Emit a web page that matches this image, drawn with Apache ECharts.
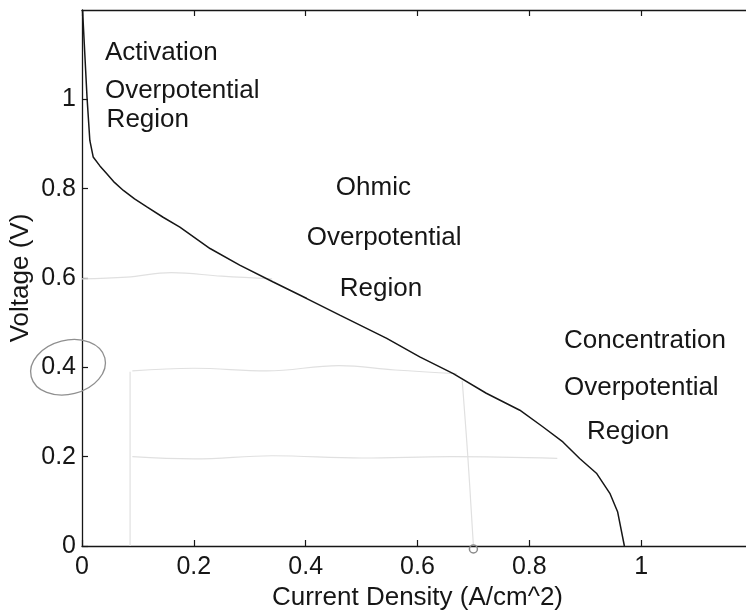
<!DOCTYPE html>
<html>
<head>
<meta charset="utf-8">
<title>Fuel cell polarization curve</title>
<script src="https://cdn.jsdelivr.net/npm/echarts@6/dist/echarts.min.js"></script>
<style>
  html, body { margin: 0; padding: 0; background: #fff; }
  #chart { width: 746px; height: 614px; }
</style>
</head>
<body>
<div id="chart"></div>
<script>
// Polarization curve: cell voltage vs. current density
const currentDensity = [0.001, 0.009, 0.014, 0.020, 0.032, 0.044, 0.058, 0.074, 0.094, 0.116, 0.145, 0.175,
  0.229, 0.282, 0.342, 0.402, 0.461, 0.545, 0.604, 0.664, 0.723, 0.783, 0.824, 0.860, 0.890,
  0.920, 0.944, 0.958, 0.970];
const voltage = [1.20, 1.004, 0.908, 0.871, 0.851, 0.834, 0.814, 0.796, 0.777, 0.759, 0.736, 0.714,
  0.666, 0.629, 0.591, 0.554, 0.517, 0.465, 0.4235, 0.386, 0.342, 0.304, 0.267, 0.233, 0.196,
  0.163, 0.118, 0.076, 0.0];

// Axis ticks
const xTicks = [0, 0.2, 0.4, 0.6, 0.8, 1, 1.2];
const yTicks = [0, 0.2, 0.4, 0.6, 0.8, 1, 1.2];

// Region labels (one entry per text line, anchored at the line's left edge)
const regionText = ['Activation', 'Overpotential', 'Region',
  'Ohmic', 'Overpotential', 'Region',
  'Concentration', 'Overpotential', 'Region'];
const regionX = [0.041, 0.041, 0.044, 0.454, 0.402, 0.461, 0.862, 0.862, 0.903];
const regionY = [1.105, 1.020, 0.953, 0.802, 0.691, 0.575, 0.459, 0.355, 0.255];

// Faint pencil guide strokes
const pencilA = [[0.0, 0.598], [0.08, 0.602], [0.16, 0.612], [0.25, 0.604], [0.34, 0.598]];
const pencilB = [[0.09, 0.392], [0.2, 0.398], [0.33, 0.392], [0.46, 0.404], [0.56, 0.394], [0.67, 0.386]];
const pencilC = [[0.09, 0.200], [0.2, 0.195], [0.34, 0.202], [0.5, 0.197], [0.66, 0.200], [0.85, 0.196]];
const pencilD = [[0.68, 0.37], [0.69, 0.2], [0.70, 0.0]];
const pencilE = [[0.086, 0.39], [0.086, 0.0]];

const FONT = '"Liberation Sans", Arial, Helvetica, sans-serif';
const INK = '#161616';

const chart = echarts.init(document.getElementById('chart'), null, { renderer: 'canvas' });

const tickStyle = { show: true, inside: true, length: 6, lineStyle: { color: INK, width: 1.2 } };
const lineStyle = { color: INK, width: 1.3 };

function pencil(data) {
  return {
    type: 'line', data: data, smooth: 0.4, symbol: 'none', silent: true, z: 1,
    lineStyle: { color: '#e0e0e0', width: 1.2 }
  };
}

const option = {
  animation: false,
  backgroundColor: '#ffffff',
  grid: { left: 82, top: 10, width: 671, height: 536, containLabel: false, outerBoundsMode: 'none' },
  xAxis: [{
    type: 'value', min: xTicks[0], max: xTicks[xTicks.length - 1], interval: 0.2,
    position: 'bottom',
    name: 'Current Density (A/cm^2)', nameLocation: 'middle', nameGap: 39,
    nameMoveOverlap: false,
    nameTextStyle: { fontFamily: FONT, fontSize: 26, color: INK },
    axisLine: { show: true, onZero: false, lineStyle: lineStyle },
    axisTick: tickStyle,
    axisLabel: { fontFamily: FONT, fontSize: 25, color: INK, margin: 9, showMaxLabel: false },
    splitLine: { show: false }
  }, {
    type: 'value', min: xTicks[0], max: xTicks[xTicks.length - 1], interval: 0.2,
    position: 'top',
    axisLine: { show: true, onZero: false, lineStyle: lineStyle },
    axisTick: tickStyle,
    axisLabel: { show: false },
    splitLine: { show: false }
  }],
  yAxis: [{
    type: 'value', min: yTicks[0], max: yTicks[yTicks.length - 1], interval: 0.2,
    position: 'left',
    name: 'Voltage (V)', nameLocation: 'middle', nameGap: 48,
    nameMoveOverlap: false,
    nameTextStyle: { fontFamily: FONT, fontSize: 26, color: INK },
    axisLine: { show: true, onZero: false, lineStyle: lineStyle },
    axisTick: tickStyle,
    axisLabel: { fontFamily: FONT, fontSize: 25, color: INK, margin: 6, showMaxLabel: false },
    splitLine: { show: false }
  }],
  series: [
    pencil(pencilA), pencil(pencilB), pencil(pencilC), pencil(pencilD), pencil(pencilE),
    {
      type: 'line',
      data: currentDensity.map((x, i) => [x, voltage[i]]),
      symbol: 'none',
      smooth: false,
      z: 3,
      lineStyle: { color: INK, width: 1.5 }
    },
    {
      type: 'scatter',
      data: regionText.map((t, i) => [regionX[i], regionY[i], t]),
      symbolSize: 0,
      silent: true,
      z: 4,
      itemStyle: { opacity: 1 },
      label: {
        show: true, position: 'right', distance: 0,
        formatter: p => p.data[2],
        fontFamily: FONT, fontSize: 26, color: INK, opacity: 1
      }
    }
  ]
};

chart.setOption(option);

// Pencil rings: one round the 0.4 tick label, one on the current axis at 0.7
const ring = chart.convertToPixel({ gridIndex: 0 }, [-0.025, 0.4]);
const dot = chart.convertToPixel({ gridIndex: 0 }, [0.7, 0]);
chart.setOption({
  graphic: [{
    type: 'ellipse', silent: true, z: 5,
    shape: { cx: ring[0], cy: ring[1], rx: 38, ry: 27 },
    rotation: 0.25, originX: ring[0], originY: ring[1],
    style: { fill: 'none', stroke: '#8f8f8f', lineWidth: 1.3 }
  }, {
    type: 'circle', silent: true, z: 5,
    shape: { cx: dot[0], cy: dot[1] + 3, r: 4 },
    style: { fill: 'none', stroke: '#8a8a8a', lineWidth: 1.5 }
  }]
});
</script>
</body>
</html>
